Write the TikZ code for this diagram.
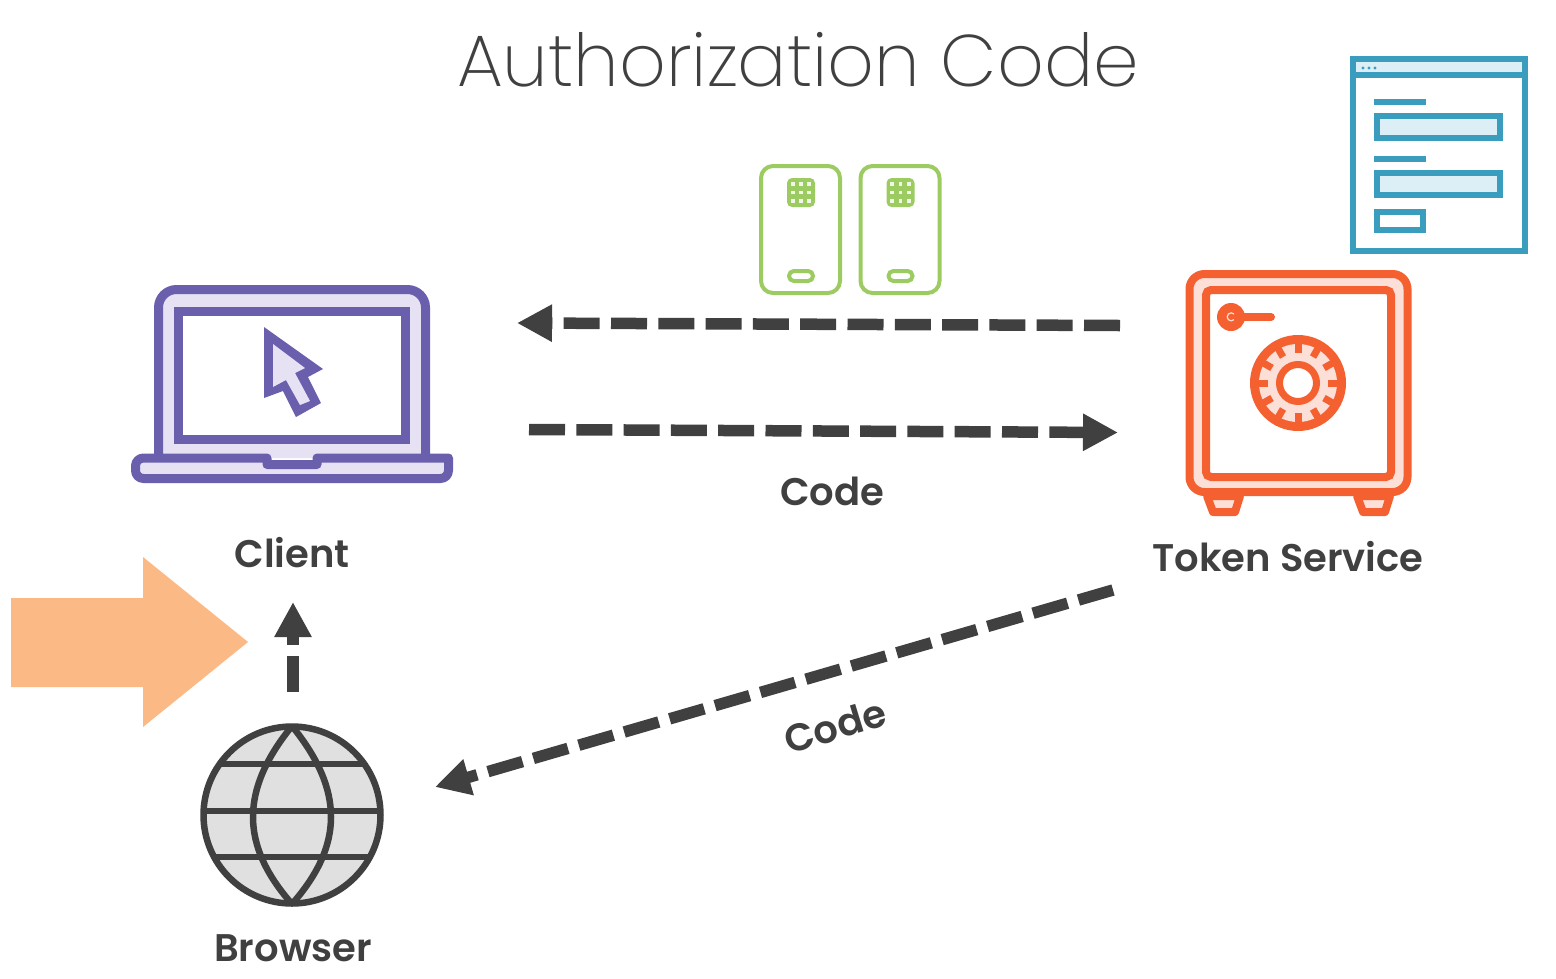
\documentclass[tikz,border=0pt]{standalone}
\usepackage{fontspec}
\setmainfont{Poppins}
\newfontfamily\titlefont[NFSSFamily=ptitle,UprightFont=* ExtraLight]{Poppins}
\newfontfamily\labelfont[NFSSFamily=plabel,UprightFont=* SemiBold]{Poppins}
\usetikzlibrary{arrows.meta,calc}
\definecolor{purp}{HTML}{6A5FAC}
\definecolor{purpl}{HTML}{E6E2F4}
\definecolor{org}{HTML}{F4602F}
\definecolor{orgl}{HTML}{FCE0D8}
\definecolor{tealc}{HTML}{3A9DBD}
\definecolor{teall}{HTML}{DCEEF6}
\definecolor{grn}{HTML}{9CCB62}
\definecolor{dk}{HTML}{404040}
\definecolor{glob}{HTML}{E0E0E0}
\definecolor{peach}{HTML}{FBB985}
\tikzset{
 flow/.style={draw=dk,line width=11.5pt,dash pattern=on 36pt off 11.3pt,
   -{Triangle[length=35pt,width=35pt,fill=dk]}},
 lbl/.style={font=\labelfont\fontsize{38.5}{38.5}\selectfont,text=dk,inner sep=0pt},
 lap/.style={draw=purp,line width=9pt,fill=purpl},
 safe/.style={draw=org,line width=8pt,fill=orgl},
 frm/.style={draw=tealc,line width=6pt,fill=teall},
 card/.style={draw=grn,line width=4pt,fill=white},
 earth/.style={draw=dk,line width=6.5pt},
}
\begin{document}
\begin{tikzpicture}[x=1pt,y=-1pt]
\useasboundingbox (0,0) rectangle (1556,978);
\fill[white] (0,0) rectangle (1556,978);
% title and labels
\node[font=\titlefont\fontsize{73}{73}\selectfont,text=dk,inner sep=0pt] (title) at (798,60) {Authorization Code};
\node[lbl] (client) at (292,553) {Client};
\node[lbl] (token) at (1288,557) {Token Service};
\node[lbl] (browser) at (293,948) {Browser};
\node[lbl] (code1) at (832,491) {Code};
\node[lbl,rotate=17] (code2) at (835,726) {Code};
% laptop
\draw[lap,rounded corners=18pt] (158.5,458) -- (158.5,289.5) -- (425.5,289.5) -- (425.5,458);
\draw[lap,fill=white] (178.5,311.5) rectangle (405.5,439.5);
\draw[lap,line join=round] (135.5,458) -- (267,458) -- (267,464.5) -- (317,464.5) -- (317,458) -- (448.5,458)
  [rounded corners=8pt] -- (448.5,478.5) -- (135.5,478.5) -- cycle;
\fill[purp] (264,327) -- (323,369) -- (308,377) -- (321,403) -- (296,417) -- (283,391) -- (264,398) -- cycle;
\fill[purpl] (273,344) -- (305,368) -- (295,373) -- (310,401) -- (300,405) -- (286,380) -- (273,387) -- cycle;
% safe
\draw[safe,line join=round] (1207,496) -- (1240,496) -- (1235,512) -- (1213,512) -- cycle;
\draw[safe,line join=round] (1357,496) -- (1390,496) -- (1385,512) -- (1363,512) -- cycle;
\draw[safe,rounded corners=15pt] (1189.5,274) rectangle (1407.5,492);
\draw[safe,fill=white,rounded corners=5pt] (1206,290) rectangle (1391,477);
\fill[org] (1231,317) circle (14);
\draw[org,line width=8pt,line cap=round] (1231,317) -- (1271,317);
\draw[orgl,line width=1.2pt] (1234,314) arc[start angle=-45,end angle=-315,radius=4];
\fill[org] (1298,383) circle (48);
\fill[orgl] (1298,383) circle (39);
\foreach \a in {0,30,...,330}
  \draw[org,line width=7pt] ($(1298,383)+(\a:30)$) -- ($(1298,383)+(\a:40)$);
\draw[org,line width=7pt,fill=white] (1298,383) circle (18.5);
% form
\draw[frm,fill=white] (1353,59) rectangle (1525,251);
\draw[frm] (1353,59) rectangle (1525,75);
\foreach \x in {1363,1369,1375} \fill[tealc] (\x,68) circle (1.7);
\fill[tealc] (1374,99) rectangle (1426,105);
\fill[tealc] (1374,156) rectangle (1426,162);
\draw[frm] (1376.5,116) rectangle (1500,138);
\draw[frm] (1376.5,173) rectangle (1500,195);
\draw[frm,fill=white] (1377,212) rectangle (1423,230);
% cards
\foreach \d in {0,99.5}{
\begin{scope}[xshift=\d pt]
\draw[card,rounded corners=12pt] (761,166) rectangle (840,293);
\fill[grn,rounded corners=5pt] (787,178) rectangle (815,207);
\foreach \x in {792.7,801,809.3}\foreach \y in {184.3,192.5,200.7}
  \fill[white!85!grn] (\x-1.9,\y-1.9) rectangle (\x+1.9,\y+1.9);
\draw[card,rounded corners=4.9pt] (789,271) rectangle (813,281);
\end{scope}}
% globe
\fill[glob] (292,815) circle (88.5);
\begin{scope}
\clip (292,815) circle (88.5);
\draw[earth] (190,764) -- (394,764);
\draw[earth] (190,811) -- (394,811);
\draw[earth] (190,857) -- (394,857);
\end{scope}
\draw[earth] (292,726) .. controls (240,790) and (240,845) .. (292,904);
\draw[earth] (292,726) .. controls (344,790) and (344,845) .. (292,904);
\draw[earth] (292,815) circle (88.5);
% big peach arrow
\fill[peach] (11,598) -- (143,598) -- (143,557) -- (248,642) -- (143,727) -- (143,687) -- (11,687) -- cycle;
% connectors
\coordinate (topR) at (1120,325.5);
\coordinate (topL) at (517,323);
\coordinate (midL) at (529,429.5);
\coordinate (midR) at (1118,432.5);
\coordinate (diagR) at (1113,590);
\coordinate (diagL) at (435,787);
\coordinate (upB) at (293,692);
\coordinate (upT) at (293,602);
\draw[flow] (topR) -- (topL);
\draw[flow] (midL) -- (midR);
\draw[flow] (diagR) -- (diagL);
\draw[flow] (upB) -- (upT);
\end{tikzpicture}
\end{document}
